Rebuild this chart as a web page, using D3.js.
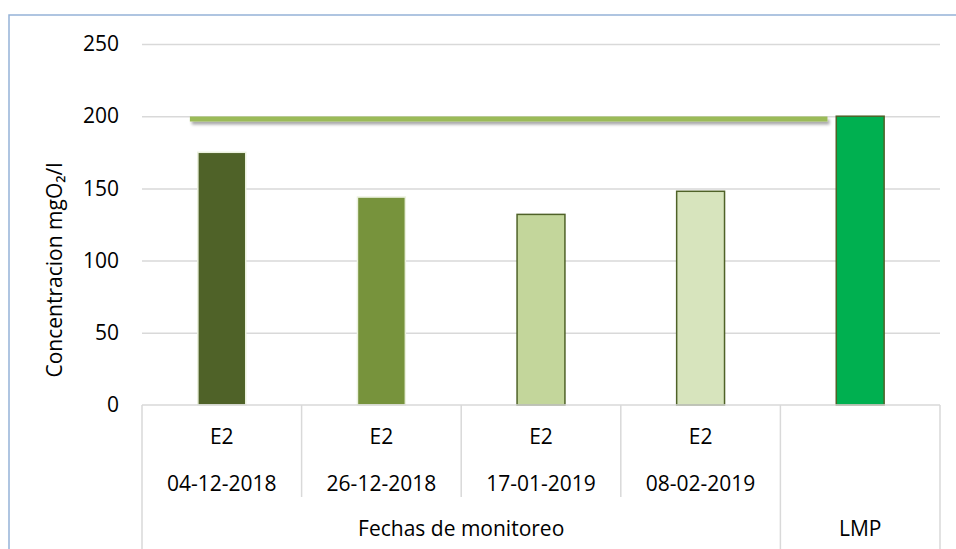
<!DOCTYPE html>
<html>
<head>
<meta charset="utf-8">
<script src="https://cdn.jsdelivr.net/npm/d3@7"></script>
<style>
  body { margin: 0; background: #fff; }
  text { font-family: "Open Sans", "Liberation Sans", sans-serif; fill: #000; }
</style>
</head>
<body>
<svg id="chart"></svg>
<script>
// data
var stations = ["E2", "E2", "E2", "E2", ""];
var dates = ["04-12-2018", "26-12-2018", "17-01-2019", "08-02-2019", ""];
var groups = ["Fechas de monitoreo", "LMP"];
var groupOf = [0, 0, 0, 0, 1];
var values = [175, 144, 132, 148, 200];
var limitValue = 198;
var yTicks = [0, 50, 100, 150, 200, 250];

var barFill = ["#4f6228", "#77933c", "#c3d69b", "#d7e4bd", "#00b050"];
var barStroke = ["#ebf1de", "#ebf1de", "#4f6228", "#4f6228", "#4f6228"];

var svgWidth = 956, svgHeight = 549;
var plotLeft = 142, plotRight = 940, plotTop = 44, plotBase = 405;

var svg = d3.select("#chart")
    .attr("width", svgWidth)
    .attr("height", svgHeight);

// shadow under the limit line (user space, since the line has a flat bbox)
var defs = svg.append("defs");
var shadow = defs.append("filter").attr("id", "shadow")
    .attr("filterUnits", "userSpaceOnUse")
    .attr("x", 0).attr("y", 0).attr("width", svgWidth).attr("height", svgHeight);
shadow.append("feDropShadow")
    .attr("dx", 2).attr("dy", 3).attr("stdDeviation", 1.8)
    .attr("flood-color", "#000").attr("flood-opacity", 0.35);

// chart border
svg.append("rect")
    .attr("x", 9).attr("y", 15)
    .attr("width", 960).attr("height", 560)
    .attr("fill", "none")
    .attr("stroke", "#95b3d7")
    .attr("stroke-width", 1.5);

var idx = d3.range(values.length);

var xScale = d3.scaleBand()
    .domain(idx)
    .range([plotLeft, plotRight])
    .paddingInner(0.7)
    .paddingOuter(0.35);
var step = xScale.step();

var yScale = d3.scaleLinear()
    .domain([0, 250])
    .range([plotBase, plotTop]);

// gridlines + y labels
var yAxis = d3.axisLeft(yScale)
    .tickValues(yTicks)
    .tickSize(-(plotRight - plotLeft))
    .tickPadding(23);

svg.append("g")
    .attr("transform", "translate(" + plotLeft + ",0)")
    .call(yAxis)
    .call(function(g) {
      g.select(".domain").remove();
      g.selectAll(".tick line").attr("stroke", "#d9d9d9").attr("stroke-width", 1.5);
      g.selectAll(".tick text")
        .style("font-size", "21px")
        .attr("fill", "#000")
        .attr("font-family", null);
    });
svg.selectAll(".tick").filter(function(d) { return d === 0; }).select("line").remove();

// y title
svg.append("text")
    .attr("transform", "translate(62,270) rotate(-90)")
    .attr("text-anchor", "middle")
    .style("font-size", "21px")
    .text("Concentracion mgO\u2082/l");

// bars
svg.selectAll("rect.bar")
    .data(values)
    .enter()
    .append("rect")
    .attr("class", "bar")
    .attr("x", function(d, i) { return xScale(i); })
    .attr("y", function(d) { return yScale(d); })
    .attr("width", xScale.bandwidth())
    .attr("height", function(d) { return plotBase - yScale(d); })
    .attr("fill", function(d, i) { return barFill[i]; })
    .attr("stroke", function(d, i) { return barStroke[i]; })
    .attr("stroke-width", 1.5);

// limit line
svg.append("line")
    .attr("x1", xScale(0) - 0.05 * step)
    .attr("x2", xScale(values.length - 1) - 0.055 * step)
    .attr("y1", yScale(limitValue))
    .attr("y2", yScale(limitValue))
    .attr("stroke", "#9bbb59")
    .attr("stroke-width", 5)
    .attr("filter", "url(#shadow)");

// category axis
var axisG = svg.append("g").attr("stroke", "#d9d9d9").attr("stroke-width", 1.5);
axisG.append("line")
    .attr("x1", plotLeft).attr("x2", plotRight)
    .attr("y1", plotBase).attr("y2", plotBase);

var bounds = d3.range(values.length + 1).map(function(i) { return plotLeft + i * step; });
axisG.selectAll("line.div")
    .data(bounds)
    .enter()
    .append("line")
    .attr("class", "div")
    .attr("x1", function(d) { return d; })
    .attr("x2", function(d) { return d; })
    .attr("y1", plotBase)
    .attr("y2", function(d, i) {
      var outer = i === 0 || i === bounds.length - 1 || groupOf[i] !== groupOf[i - 1];
      return outer ? svgHeight : 497;
    });

svg.selectAll("text.station")
    .data(stations)
    .enter()
    .append("text")
    .attr("class", "station")
    .attr("x", function(d, i) { return plotLeft + (i + 0.5) * step; })
    .attr("y", 444)
    .attr("text-anchor", "middle")
    .style("font-size", "21px")
    .text(function(d) { return d; });

svg.selectAll("text.date")
    .data(dates)
    .enter()
    .append("text")
    .attr("class", "date")
    .attr("x", function(d, i) { return plotLeft + (i + 0.5) * step; })
    .attr("y", 491)
    .attr("text-anchor", "middle")
    .style("font-size", "21px")
    .text(function(d) { return d; });

svg.selectAll("text.group")
    .data(groups)
    .enter()
    .append("text")
    .attr("class", "group")
    .attr("x", function(d, g) {
      var members = idx.filter(function(i) { return groupOf[i] === g; });
      return plotLeft + (d3.min(members) + d3.max(members) + 1) / 2 * step;
    })
    .attr("y", 536)
    .attr("text-anchor", "middle")
    .style("font-size", "21px")
    .text(function(d) { return d; });
</script>
</body>
</html>
